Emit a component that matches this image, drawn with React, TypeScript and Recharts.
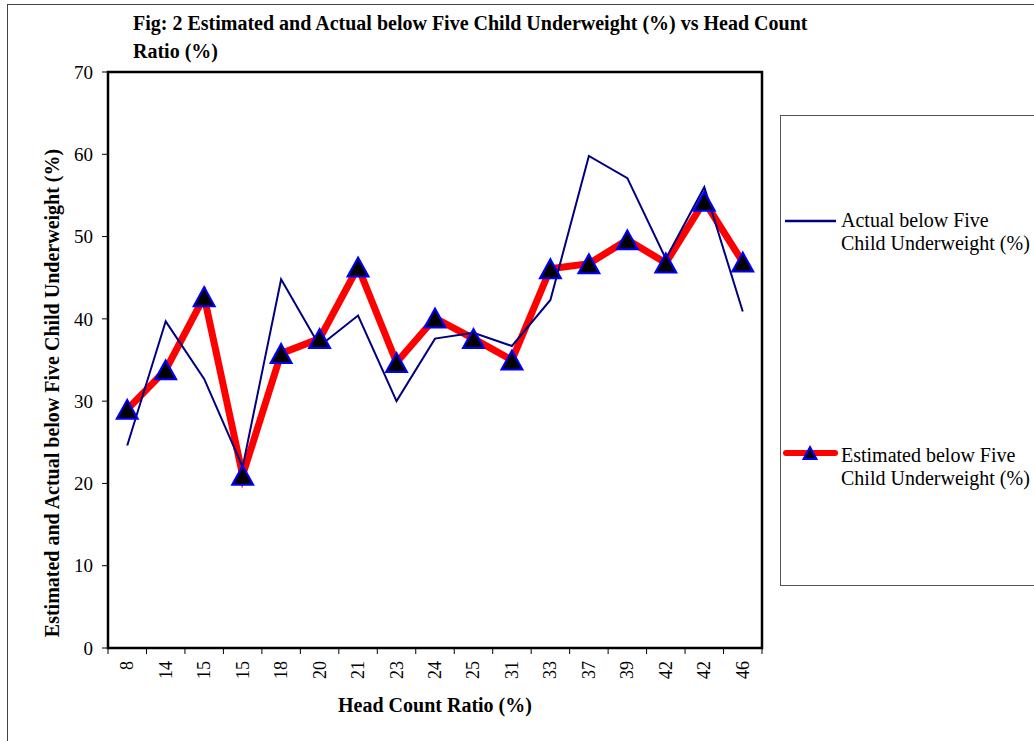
import { LineChart, Line, XAxis, YAxis, ReferenceArea } from 'recharts';

const FONT = '"Liberation Serif", "Times New Roman", serif';

// Head count ratio categories (x axis), in chart order
const categories = ['8', '14', '15', '15', '18', '20', '21', '23', '24', '25', '31', '33', '37', '39', '42', '42', '46'];
const actualValues = [24.6, 39.7, 32.7, 22.0, 44.8, 36.7, 40.4, 30.0, 37.6, 38.3, 36.7, 42.3, 59.8, 57.1, 47.3, 56.0, 40.9];
const estimatedValues = [29.0, 33.8, 42.7, 21.0, 35.8, 37.6, 46.3, 34.7, 40.1, 37.6, 35.0, 46.1, 46.7, 49.6, 46.8, 54.3, 46.9];
const yTicks = [0, 10, 20, 30, 40, 50, 60, 70];

const titleLines = ['Fig: 2 Estimated and Actual below Five Child Underweight (%) vs Head Count', 'Ratio (%)'];
const xTitle = 'Head Count Ratio (%)';
const yTitle = 'Estimated and Actual below Five Child Underweight (%)';
const actualLegend = ['Actual below Five', 'Child Underweight (%)'];
const estimatedLegend = ['Estimated below Five', 'Child Underweight (%)'];

const data = categories.map((label, i) => ({
    pos: i + 0.5,
    label,
    actual: actualValues[i],
    estimated: estimatedValues[i],
}));
const xBounds = categories.map((_, i) => i).concat(categories.length);

const PLOT_W = 654;
const STEP = PLOT_W / categories.length;

function trianglePath(cx: number, cy: number, w: number, h: number) {
    return `M${cx},${cy - h / 2} L${cx + w / 2},${cy + h / 2} L${cx - w / 2},${cy + h / 2} Z`;
}

const TriangleDot = (props: any) => {
    const { cx, cy, index } = props;
    if (cx == null || cy == null) return <g key={`t-${index}`} />;
    return (
        <path
            key={`t-${index}`}
            d={trianglePath(cx, cy, 21, 19)}
            fill="#000000"
            stroke="#0000FF"
            strokeWidth={2}
        />
    );
};

const XTick = (props: any) => {
    const { x, y, payload } = props;
    const i = payload.value;
    if (i >= categories.length) return <g />;
    const tx = x + STEP / 2;
    return (
        <text
            x={tx}
            y={y}
            transform={`rotate(-90 ${tx} ${y})`}
            textAnchor="end"
            dominantBaseline="central"
            fill="#000"
            fontSize={18}
            fontFamily={FONT}
        >
            {categories[i]}
        </text>
    );
};

const YLabel = (props: any) => {
    const { x, y, height } = props.viewBox;
    const cx = x + 4;
    const cy = y + height / 2 + 33;
    return (
        <text
            x={cx}
            y={cy}
            transform={`rotate(-90 ${cx} ${cy})`}
            textAnchor="middle"
            dominantBaseline="central"
            fill="#000"
            fontSize={20}
            fontWeight={700}
            fontFamily={FONT}
        >
            {yTitle}
        </text>
    );
};

export default function App() {
    return (
        <div
            style={{
                position: 'absolute',
                left: 0,
                top: 0,
                width: 1034,
                height: 741,
                overflow: 'hidden',
                background: '#fff',
                fontFamily: FONT,
                color: '#000',
            }}
        >
            <div
                style={{
                    position: 'absolute',
                    left: 7,
                    top: 4,
                    width: 1100,
                    height: 800,
                    border: '1px solid #444',
                }}
            />
            <div
                style={{
                    position: 'absolute',
                    left: 133,
                    top: 9,
                    fontSize: 20,
                    fontWeight: 700,
                    lineHeight: '28px',
                    whiteSpace: 'nowrap',
                }}
            >
                {titleLines.map((t) => (
                    <div key={t}>{t}</div>
                ))}
            </div>

            <div style={{ position: 'absolute', left: 0, top: 0 }}>
                <LineChart
                    width={780}
                    height={741}
                    data={data}
                    margin={{ top: 72, right: 18, bottom: 29, left: 48 }}
                >
                    <ReferenceArea
                        x1={0}
                        x2={categories.length}
                        y1={0}
                        y2={70}
                        fill="none"
                        stroke="#000"
                        strokeWidth={2.5}
                        fillOpacity={0}
                    />
                    <XAxis
                        dataKey="pos"
                        type="number"
                        domain={[0, categories.length]}
                        ticks={xBounds}
                        interval={0}
                        height={64}
                        axisLine={false}
                        tickLine={{ stroke: '#000' }}
                        tickSize={6}
                        tickMargin={7}
                        tick={<XTick />}
                        label={{
                            value: xTitle,
                            position: 'insideBottom',
                            offset: 0,
                            fill: '#000',
                            fontSize: 20,
                            fontWeight: 700,
                            fontFamily: FONT,
                        }}
                    />
                    <YAxis
                        type="number"
                        domain={[0, 70]}
                        ticks={yTicks}
                        interval={0}
                        width={60}
                        axisLine={false}
                        tickLine={{ stroke: '#000' }}
                        tickSize={6}
                        tickMargin={9}
                        tick={{ fill: '#000', fontSize: 19, fontFamily: FONT }}
                        label={YLabel}
                    />
                    <Line
                        dataKey="estimated"
                        stroke="#FF0000"
                        strokeWidth={7}
                        dot={false}
                        activeDot={false}
                        isAnimationActive={false}
                    />
                    <Line
                        dataKey="actual"
                        stroke="#000080"
                        strokeWidth={2}
                        dot={false}
                        activeDot={false}
                        isAnimationActive={false}
                    />
                    <Line
                        dataKey="estimated"
                        stroke="none"
                        dot={TriangleDot}
                        activeDot={false}
                        isAnimationActive={false}
                    />
                </LineChart>
            </div>

            <div
                style={{
                    position: 'absolute',
                    left: 780,
                    top: 115,
                    width: 300,
                    height: 469,
                    border: '1px solid #555',
                }}
            />
            <svg
                width={60}
                height={260}
                style={{ position: 'absolute', left: 780, top: 200 }}
            >
                <line x1={5} x2={56} y1={21} y2={21} stroke="#000080" strokeWidth={2.5} />
                <line
                    x1={6}
                    x2={55}
                    y1={253}
                    y2={253}
                    stroke="#FF0000"
                    strokeWidth={6}
                    strokeLinecap="round"
                />
                <path d={trianglePath(30, 253, 13, 12)} fill="#000" stroke="#0000FF" strokeWidth={2} />
            </svg>
            <div
                style={{
                    position: 'absolute',
                    left: 841,
                    top: 209,
                    fontSize: 20,
                    lineHeight: '23px',
                    whiteSpace: 'nowrap',
                }}
            >
                {actualLegend.map((t) => (
                    <div key={t}>{t}</div>
                ))}
            </div>
            <div
                style={{
                    position: 'absolute',
                    left: 841,
                    top: 444,
                    fontSize: 20,
                    lineHeight: '23px',
                    whiteSpace: 'nowrap',
                }}
            >
                {estimatedLegend.map((t) => (
                    <div key={t}>{t}</div>
                ))}
            </div>
        </div>
    );
}
